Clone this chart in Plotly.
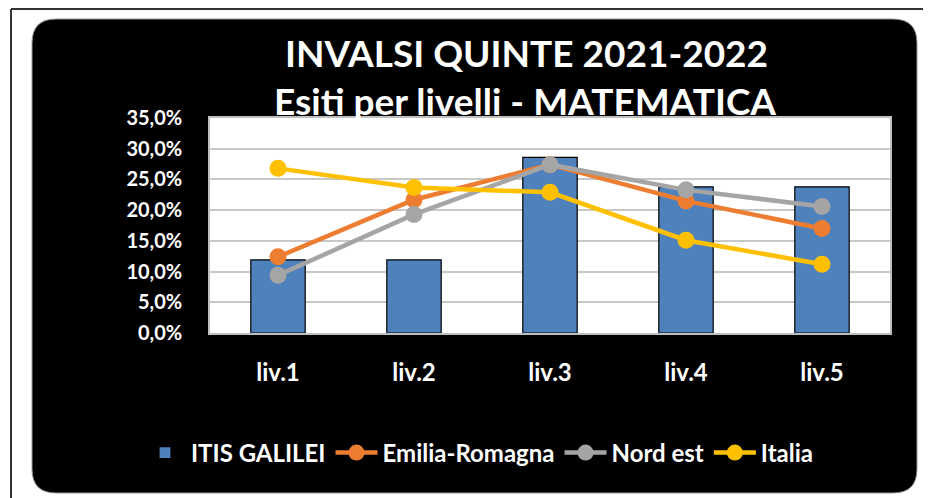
import plotly.graph_objects as go

categories = ["liv.1", "liv.2", "liv.3", "liv.4", "liv.5"]
itis_galilei = [0.119, 0.119, 0.286, 0.238, 0.238]
emilia_romagna = [0.124, 0.217, 0.274, 0.215, 0.170]
nord_est = [0.094, 0.193, 0.274, 0.233, 0.206]
italia = [0.268, 0.237, 0.229, 0.151, 0.112]
y_ticks = [0, 0.05, 0.10, 0.15, 0.20, 0.25, 0.30, 0.35]

OFF = 8                     # browser body margin
W, H = 931 - OFF, 498 - OFF
L, R, T, B = 210, 890, 118, 333  # plot area in screen pixels
FONT = "Lato"


def px(x):
    return (x - L) / (R - L)


def py(y):
    return (B - y) / (B - T)


fig = go.Figure()
fig.add_trace(go.Bar(
    x=categories, y=itis_galilei, name="ITIS GALILEI",
    marker=dict(color="#4f81bd", line=dict(color="#000000", width=1.2)),
))
for name, vals, col in [("Emilia-Romagna", emilia_romagna, "#ed7d31"),
                        ("Nord est", nord_est, "#a5a5a5"),
                        ("Italia", italia, "#ffc000")]:
    fig.add_trace(go.Scatter(
        x=categories, y=vals, name=name, mode="lines+markers",
        line=dict(color=col, width=4.5),
        marker=dict(color=col, size=17),
    ))

# rounded black panel
x0, x1, y0, y1, r = 32, 917, 19, 493, 24
path = (f"M {px(x0 + r)} {py(y0)} L {px(x1 - r)} {py(y0)} "
        f"Q {px(x1)} {py(y0)} {px(x1)} {py(y0 + r)} "
        f"L {px(x1)} {py(y1 - r)} Q {px(x1)} {py(y1)} {px(x1 - r)} {py(y1)} "
        f"L {px(x0 + r)} {py(y1)} Q {px(x0)} {py(y1)} {px(x0)} {py(y1 - r)} "
        f"L {px(x0)} {py(y0 + r)} Q {px(x0)} {py(y0)} {px(x0 + r)} {py(y0)} Z")

shapes = [
    dict(type="path", xref="paper", yref="paper", path=path,
         fillcolor="#000000", line=dict(color="#9a9a9a", width=1), layer="below"),
    dict(type="rect", xref="paper", yref="paper", x0=0, x1=1, y0=0, y1=1,
         fillcolor="#ffffff", line=dict(width=0), layer="below"),
    dict(type="line", xref="paper", yref="paper", x0=px(11), x1=px(935),
         y0=py(9), y1=py(9), line=dict(color="#333333", width=2)),
    dict(type="line", xref="paper", yref="paper", x0=px(11), x1=px(11),
         y0=py(9), y1=py(502), line=dict(color="#333333", width=2)),
]

annotations = [
    dict(text="INVALSI QUINTE 2021-2022", x=px(526), y=py(52),
         xref="paper", yref="paper", showarrow=False, xanchor="center", yanchor="middle",
         font=dict(family=FONT, size=37, color="#ffffff", weight="bold")),
    dict(text="Esiti per livelli - MATEMATICA", x=px(525), y=py(101),
         xref="paper", yref="paper", showarrow=False, xanchor="center", yanchor="middle",
         font=dict(family=FONT, size=37, color="#ffffff", weight="bold")),
]

fig.update_layout(
    width=W, height=H,
    margin=dict(l=L - OFF, r=W - (R - OFF), t=T - OFF, b=H - (B - OFF), pad=0,
                autoexpand=False),
    paper_bgcolor="#ffffff", plot_bgcolor="#ffffff",
    separators=",.",
    bargap=0.6,
    shapes=shapes, annotations=annotations,
    showlegend=True,
    legend=dict(orientation="h", xref="container", yref="container",
                x=(479 - OFF) / W, xanchor="center",
                y=1 - (453 - OFF) / H, yanchor="middle",
                font=dict(family=FONT, size=24, color="#ffffff", weight="bold"),
                bgcolor="rgba(0,0,0,0)", itemwidth=42, traceorder="normal"),
    font=dict(family=FONT),
)
fig.update_xaxes(
    showgrid=False, showline=True, linecolor="#bfbfbf", linewidth=1.5, mirror=True,
    tickfont=dict(family=FONT, size=24, color="#ffffff", weight="bold"), ticks="",
    ticklabelstandoff=17,
)
fig.update_yaxes(
    range=[0, 0.35], tickvals=y_ticks, tickformat=".1%",
    showgrid=True, gridcolor="#c8c8c8", gridwidth=1.5,
    showline=True, linecolor="#bfbfbf", linewidth=1.5, mirror=True,
    tickfont=dict(family=FONT, size=20, color="#ffffff", weight="bold"), ticks="",
    ticklabelstandoff=22, zeroline=False,
)

fig.write_html("out.html")
